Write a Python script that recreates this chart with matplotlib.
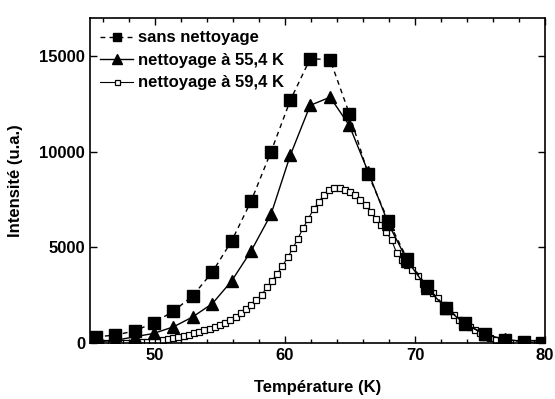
import numpy as np
import matplotlib
matplotlib.use("Agg")
import matplotlib.pyplot as plt
from matplotlib.ticker import MultipleLocator

plt.rcParams['font.family'] = ['Liberation Sans', 'DejaVu Sans']
plt.rcParams['font.weight'] = 'bold'

# sans nettoyage / nettoyage a 55,4 K (memes temperatures)
temp_a = [45.46, 46.96, 48.44, 49.91, 51.42, 52.9, 54.42, 55.9, 57.4, 58.93, 60.41, 61.94,
          63.47, 64.95, 66.4, 67.95, 69.4, 70.9, 72.38, 73.86, 75.36, 76.9, 78.37, 79.8]
sans = [330, 420, 640, 1060, 1670, 2470, 3720, 5340, 7430, 10010, 12690, 14870,
        14820, 12000, 8830, 6390, 4410, 2980, 1860, 1030, 455, 190, 70, 15]
net_55 = [60, 150, 330, 510, 850, 1370, 2070, 3250, 4820, 6740, 9820, 12430,
          12860, 11380, 8950, 6250, 4320, 2900, 1820, 1000, 460, 200, 80, 30]

# nettoyage a 59,4 K
temp_b = [45.0, 45.4, 45.8, 46.2, 46.6, 47.0, 47.4, 47.8, 48.2, 48.6, 49.0, 49.4, 49.8,
          50.2, 50.6, 51.0, 51.4, 51.8, 52.2, 52.6, 53.0, 53.4, 53.8, 54.2, 54.6, 55.0,
          55.4, 55.8, 56.2, 56.6, 57.0, 57.4, 57.8, 58.2, 58.6, 59.0, 59.4, 59.8, 60.2,
          60.6, 61.0, 61.4, 61.8, 62.2, 62.6, 63.0, 63.4, 63.8, 64.2, 64.6, 65.0, 65.4,
          65.8, 66.2, 66.6, 67.0, 67.4, 67.8, 68.2, 68.6, 69.0, 69.4, 69.8, 70.2, 70.6,
          71.0, 71.4, 71.8, 72.2, 72.6, 73.0, 73.4, 73.8, 74.2, 74.6, 75.0, 75.4, 75.8,
          76.2, 76.6, 77.0, 77.4, 77.8, 78.2, 78.6, 79.0, 79.4, 79.8]
net_59 = [0, 0, 0, 0, 0, 0, 5, 10, 15, 25, 40, 65, 95,
          130, 175, 220, 270, 330, 390, 450, 520, 600, 680, 750, 830, 930,
          1050, 1210, 1380, 1570, 1780, 2000, 2240, 2510, 2910, 3250, 3640, 4020, 4480,
          4950, 5470, 6020, 6510, 7000, 7380, 7750, 7990, 8110, 8120, 7990, 7900, 7770,
          7500, 7200, 6860, 6500, 6160, 5800, 5380, 4700, 4370, 4070, 3810, 3500, 3100,
          2820, 2630, 2370, 2020, 1720, 1460, 1200, 980, 850, 680, 510, 330, 245,
          160, 90, 40, 15, 0, 0, 0, 0, 0, 0]

fig = plt.figure(figsize=(5.55, 3.99), dpi=100)
ax = fig.add_axes([0.162, 0.140, 0.820, 0.815])

ax.plot(temp_b, net_59, '-', color='black', lw=0.8, marker='s', ms=4.5,
        mfc='white', mec='black', mew=0.9, label=u'nettoyage à 59,4 K', zorder=2)
ax.plot(temp_a, net_55, '-', color='black', lw=1.0, marker='^', ms=9,
        label=u'nettoyage à 55,4 K', zorder=3)
ax.plot(temp_a, sans, '--', color='black', lw=1.0, dashes=(3.5, 3), marker='s', ms=8,
        label='sans nettoyage', zorder=4)

ax.set_xlim(45, 80)
ax.set_ylim(0, 17000)
ax.xaxis.set_major_locator(MultipleLocator(10))
ax.xaxis.set_minor_locator(MultipleLocator(2))
ax.yaxis.set_major_locator(MultipleLocator(5000))
ax.tick_params(which='both', direction='in', top=True, right=True, labelsize=12, width=1)
ax.tick_params(which='major', length=5)
ax.tick_params(which='minor', length=3)
for s in ax.spines.values():
    s.set_linewidth(1.2)

ax.set_xlabel(u'Température (K)', fontsize=12, fontweight='bold', labelpad=12)
ax.set_ylabel(u'Intensité (u.a.)', fontsize=12, fontweight='bold', labelpad=12)

h, l = ax.get_legend_handles_labels()
ax.legend(h[::-1], l[::-1], loc='upper left', bbox_to_anchor=(-0.005, 1.0),
          frameon=False, markerscale=0.8,
          handlelength=2.0, handletextpad=0.3, labelspacing=0.45,
          borderaxespad=0.15, borderpad=0.6, prop={'weight': 'bold', 'size': 12})

fig.savefig('out.png', dpi=100)
